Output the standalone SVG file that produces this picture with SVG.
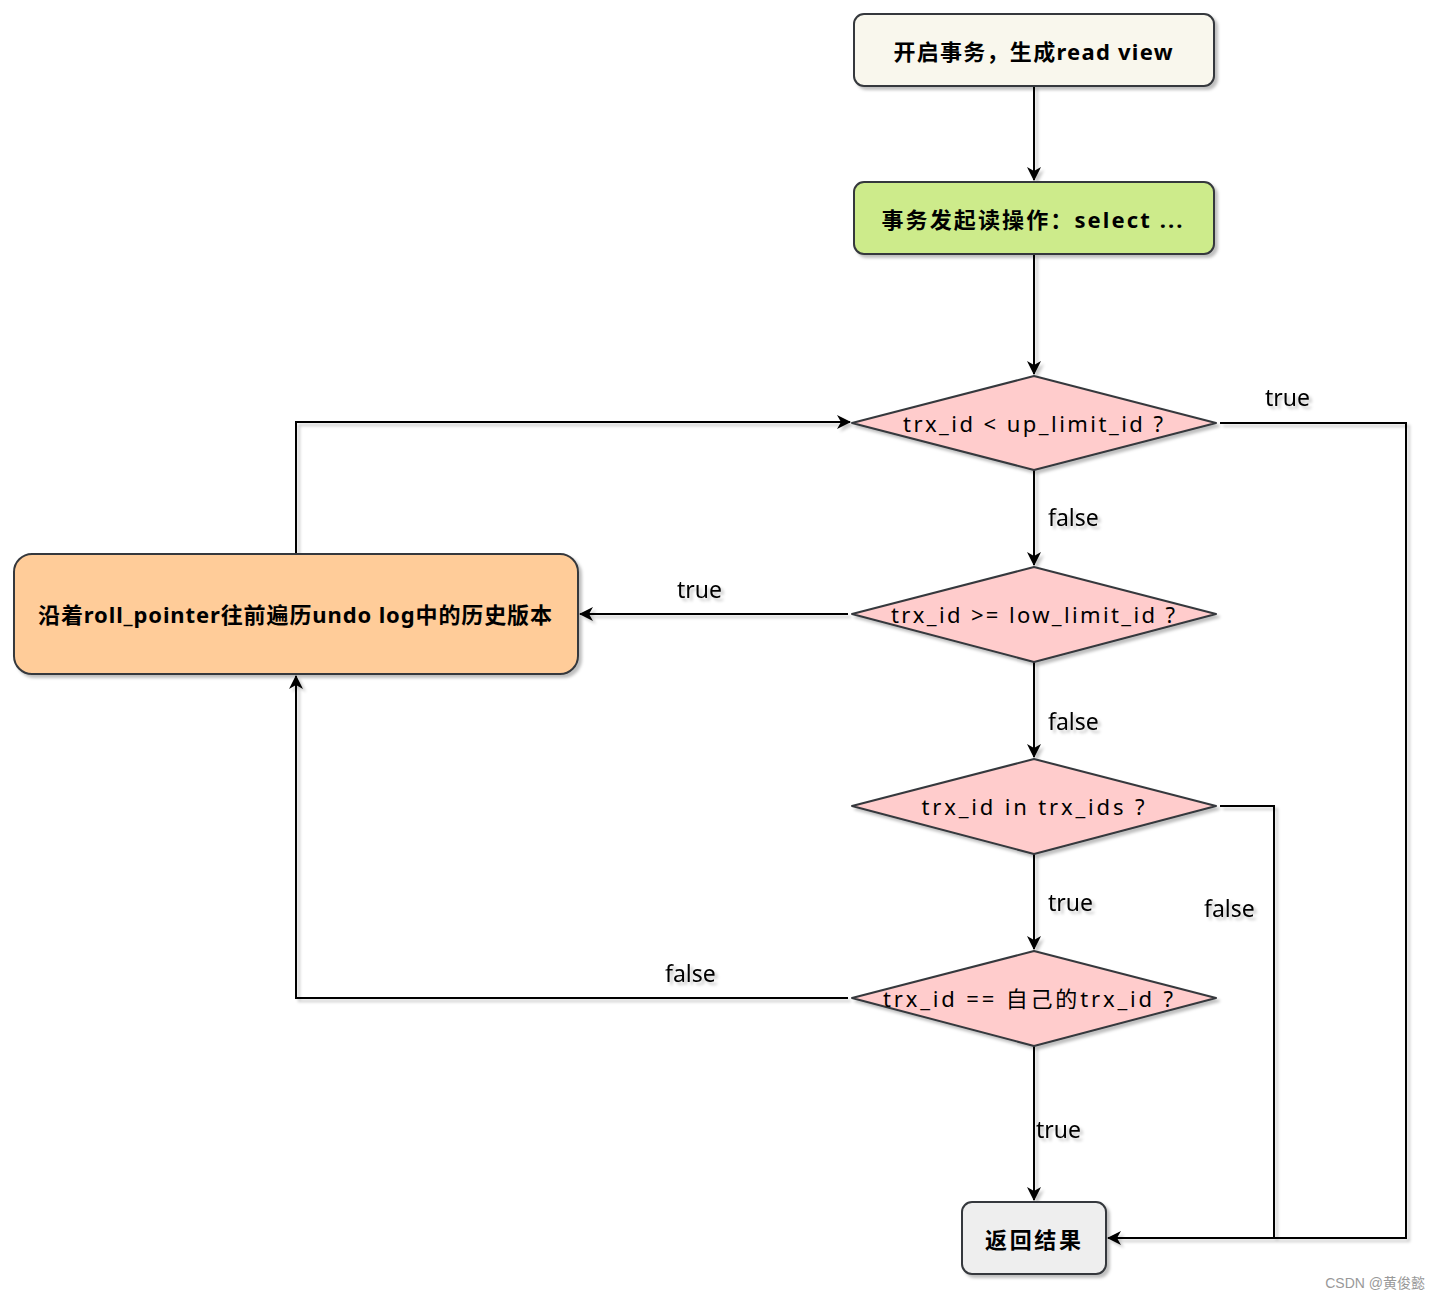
<svg xmlns="http://www.w3.org/2000/svg" width="1440" height="1300" viewBox="0 0 1440 1300">
<defs>
<filter id="sh" x="-10%" y="-10%" width="130%" height="140%">
<feDropShadow dx="3" dy="3" stdDeviation="1.5" flood-color="#000" flood-opacity="0.25"/>
</filter>
<filter id="shu" filterUnits="userSpaceOnUse" x="0" y="0" width="1440" height="1300">
<feDropShadow dx="3" dy="3" stdDeviation="1.5" flood-color="#000" flood-opacity="0.22"/>
</filter>
<marker id="ah" viewBox="0 0 14 14" refX="13" refY="7" markerWidth="14" markerHeight="14" markerUnits="userSpaceOnUse" orient="auto">
<path d="M0,0 L14,7 L0,14 L4,7 Z" fill="#000"/>
</marker>
</defs>
<style>
.box{stroke:#36393d;stroke-width:2;filter:url(#sh)}
.nt{font-family:"Noto Sans","Noto Sans CJK SC",sans-serif;font-size:22px;font-weight:bold;fill:#000;text-anchor:middle;dominant-baseline:central}
.dt{font-family:"Noto Sans","Noto Sans CJK SC",sans-serif;font-size:22px;fill:#000;text-anchor:middle;dominant-baseline:central}
.el{font-family:"Noto Sans",sans-serif;font-size:23px;fill:#000}
.ln{fill:none;stroke:#000;stroke-width:2}
</style>
<rect width="1440" height="1300" fill="#fff"/>
<g id="connectors" filter="url(#shu)">
<path class="ln" d="M1034,86 V180" marker-end="url(#ah)"/>
<path class="ln" d="M1034,254 V374" marker-end="url(#ah)"/>
<path class="ln" d="M1034,470 V565" marker-end="url(#ah)"/>
<path class="ln" d="M1034,662 V757" marker-end="url(#ah)"/>
<path class="ln" d="M1034,854 V949" marker-end="url(#ah)"/>
<path class="ln" d="M1034,1046 V1200" marker-end="url(#ah)"/>
<path class="ln" d="M1220,423 H1406 V1238 H1108" marker-end="url(#ah)"/>
<path class="ln" d="M1220,806 H1274 V1238"/>
<path class="ln" d="M848,614 H580" marker-end="url(#ah)"/>
<path class="ln" d="M848,998 H296 V676" marker-end="url(#ah)"/>
<path class="ln" d="M296,554 V422 H850" marker-end="url(#ah)"/>
<text class="el" x="1265" y="406">true</text>
<text class="el" x="1048" y="526">false</text>
<text class="el" x="677" y="598">true</text>
<text class="el" x="1048" y="730">false</text>
<text class="el" x="1048" y="911">true</text>
<text class="el" x="1204" y="917">false</text>
<text class="el" x="665" y="982">false</text>
<text class="el" x="1036" y="1138">true</text>
</g>
<g id="start">
<rect class="box" x="854" y="14" width="360" height="72" rx="10" fill="#f9f7ed"/>
<text class="nt" x="1033" y="51" textLength="279" lengthAdjust="spacing">开启事务，生成read view</text>
</g>
<g id="select">
<rect class="box" x="854" y="182" width="360" height="72" rx="10" fill="#cdeb8b"/>
<text class="nt" x="1032" y="219" textLength="301" lengthAdjust="spacing">事务发起读操作：select ...</text>
</g>
<g id="d1">
<path class="box" d="M1034,376 L1216,423 L1034,470 L852,423 Z" fill="#ffcccc" stroke-linejoin="round"/>
<text class="dt" x="1033" y="423" textLength="260" lengthAdjust="spacing">trx_id  &lt;  up_limit_id  ?</text>
</g>
<g id="d2">
<path class="box" d="M1034,567 L1216,614 L1034,662 L852,614 Z" fill="#ffcccc" stroke-linejoin="round"/>
<text class="dt" x="1033" y="614" textLength="284" lengthAdjust="spacing">trx_id  &gt;=  low_limit_id  ?</text>
</g>
<g id="d3">
<path class="box" d="M1034,759 L1216,806 L1034,854 L852,806 Z" fill="#ffcccc" stroke-linejoin="round"/>
<text class="dt" x="1033" y="806" textLength="223" lengthAdjust="spacing">trx_id  in  trx_ids  ?</text>
</g>
<g id="d4">
<path class="box" d="M1034,951 L1216,998 L1034,1046 L852,998 Z" fill="#ffcccc" stroke-linejoin="round"/>
<text class="dt" x="1028" y="998" textLength="290" lengthAdjust="spacing">trx_id  ==  自己的trx_id  ?</text>
</g>
<g id="history">
<rect class="box" x="14" y="554" width="564" height="120" rx="18" fill="#ffcc99"/>
<text class="nt" x="295" y="614" textLength="514" lengthAdjust="spacing">沿着roll_pointer往前遍历undo log中的历史版本</text>
</g>
<g id="result">
<rect class="box" x="962" y="1202" width="144" height="72" rx="10" fill="#eeeeee"/>
<text class="nt" x="1033" y="1239" textLength="96" lengthAdjust="spacing">返回结果</text>
</g>
<text x="1425" y="1288" font-family="Liberation Sans,'Noto Sans CJK SC',sans-serif" font-size="14" fill="#999" text-anchor="end">CSDN @黄俊懿</text>
</svg>
